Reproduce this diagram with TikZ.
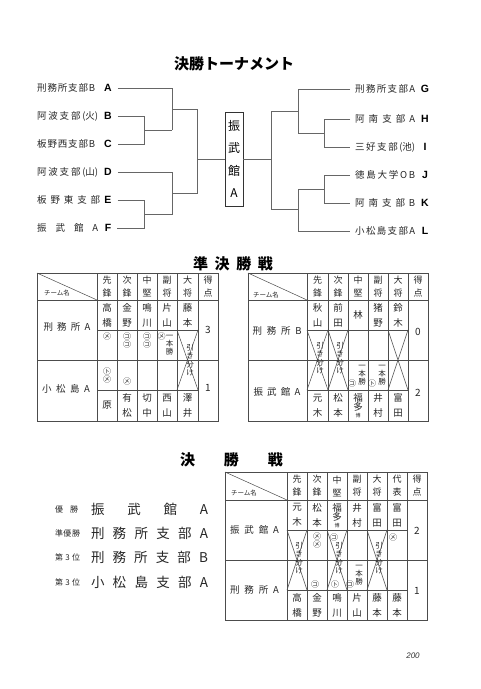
\documentclass[tikz,border=0pt]{standalone}
\usepackage{fontspec}
\setmainfont{Noto Sans CJK JP}
\newfontfamily\lat{Liberation Sans}
\makeatletter
\def\sprd#1#2{\makebox[#1][s]{\sprd@a#2\relax}}
\def\sprd@a#1{#1\futurelet\sprd@n\sprd@b}
\def\sprd@b{\ifx\sprd@n\relax\expandafter\@gobble\else\hfill\expandafter\sprd@a\fi}
\makeatother
\begin{document}
\begin{tikzpicture}[x=1pt,y=-1pt,
  br/.style={draw=black!60, line width=0.5pt},
  tb/.style={draw=black!70, line width=0.5pt},
  nm/.style={inner sep=0, align=center, font=\fontsize{9.5}{15}\selectfont, text=black!85},
  hd/.style={inner sep=0, align=center, font=\fontsize{9}{13}\selectfont, text=black!85},
  mk/.style={inner sep=0, align=center, font=\fontsize{8}{8}\selectfont, text=black!85},
  hk/.style={inner sep=0, align=center, font=\fontsize{7.5}{8.3}\selectfont, text=black!85},
  lbl/.style={inner sep=0, anchor=west, font=\fontsize{9.5}{10}\selectfont, text=black!85},
  tnm/.style={inner sep=0, font=\fontsize{9.5}{10}\selectfont, text=black!85},
  lett/.style={inner sep=0, font=\lat\bfseries\fontsize{10.5}{11}\selectfont},
  ttl/.style={inner sep=0, font=\bfseries\fontsize{15}{16}\selectfont},
  cmn/.style={inner sep=0, font=\fontsize{6.5}{7}\selectfont, text=black!85},
  sm/.style={inner sep=0, font=\fontsize{8}{9}\selectfont, text=black!85},
  big/.style={inner sep=0, font=\fontsize{13.5}{14}\selectfont, text=black!85},
  scr/.style={inner sep=0, font=\fontsize{10}{11}\selectfont, text=black!85}
]
\fill[white] (0,0) rectangle (480,689);
\useasboundingbox (0,0) rectangle (480,689);

% ---------- title
\node[ttl] (t1) at (234,64) {決勝トーナメント};

% ---------- left bracket
\node[lbl] (nA) at (37,88)  {\sprd{58pt}{刑務所支部B}};
\node[lbl] (nB) at (37,116) {\sprd{61pt}{阿波支部{(火)}}};
\node[lbl] (nC) at (37,144) {\sprd{58pt}{板野西支部B}};
\node[lbl] (nD) at (37,172) {\sprd{61pt}{阿波支部{(山)}}};
\node[lbl] (nE) at (37,200) {\sprd{63pt}{板野東支部}};
\node[lbl] (nF) at (37,228) {\sprd{61pt}{振武館A}};
\node[lett] (A) at (108,88) {A};
\node[lett] (B) at (108,116) {B};
\node[lett] (C) at (108,144) {C};
\node[lett] (D) at (108,172) {D};
\node[lett] (E) at (108,200) {E};
\node[lett] (F) at (108,228) {F};

\node[draw=black!80, line width=0.6pt, minimum width=18pt, minimum height=94pt, inner sep=0,
      align=center, font=\fontsize{12}{22.5}\selectfont] (W) at (234,159) {振\\武\\館\\A};

\draw[br] ([xshift=6pt]A.east) -- (172,88) -- (172,130);
\draw[br] ([xshift=6pt]B.east) -- (144,116) -- (144,144) -- ([xshift=6pt]C.east);
\draw[br] (144,130) -- (172,130);
\draw[br] (172,109) -- (197,109) -- (197,193) -- (172,193);
\draw[br] ([xshift=6pt]D.east) -- (172,172) -- (172,214) -- (144,214);
\draw[br] ([xshift=6pt]E.east) -- (144,200) -- (144,228) -- ([xshift=6pt]F.east);
\draw[br] (W.west) -- (197,159);

% ---------- right bracket
\node[lbl] (nG) at (355,89)  {\sprd{60pt}{刑務所支部A}};
\node[lbl] (nH) at (355,119) {\sprd{60pt}{阿南支部A}};
\node[lbl] (nI) at (355,147) {\sprd{60pt}{三好支部{(池)}}};
\node[lbl] (nJ) at (355,175) {\sprd{60pt}{徳島大学OB}};
\node[lbl] (nK) at (355,203) {\sprd{60pt}{阿南支部B}};
\node[lbl] (nL) at (355,231) {\sprd{60pt}{小松島支部A}};
\node[lett] (G) at (425,89) {G};
\node[lett] (H) at (425,119) {H};
\node[lett] (I) at (425,147) {I};
\node[lett] (J) at (425,175) {J};
\node[lett] (K) at (425,203) {K};
\node[lett] (L) at (425,231) {L};

\draw[br] (W.east) -- (271,159);
\draw[br] (298,111) -- (271,111) -- (271,209) -- (298,209);
\draw[br] ([xshift=-5pt]nG.west) -- (298,89) -- (298,133) -- (324,133);
\draw[br] ([xshift=-5pt]nH.west) -- (324,119) -- (324,147) -- ([xshift=-5pt]nI.west);
\draw[br] (324,189) -- (298,189) -- (298,231) -- ([xshift=-5pt]nL.west);
\draw[br] ([xshift=-5pt]nJ.west) -- (324,175) -- (324,203) -- ([xshift=-5pt]nK.west);

% ---------- semifinal title
\node[ttl] (t2) at (233,264) {\sprd{80pt}{準決勝戦}};

% ---------- left semifinal table
\draw[tb] (37,273) rectangle (218,421);
\foreach \x in {97,117,137,157,177,198} \draw[tb] (\x,273) -- (\x,421);
\draw[tb] (37,300) -- (218,300);
\draw[tb] (37,360) -- (218,360);
\draw[tb] (97,330) -- (198,330);
\draw[tb] (97,390) -- (198,390);
\draw[tb] (37,273) -- (97,300);
\draw[tb] (177,330) -- (198,390) (198,330) -- (177,390);
\node[cmn] (lc) at (57,293) {チーム名};
\foreach \x/\a [count=\i] in {107/{先\\鋒},127/{次\\鋒},147/{中\\堅},167/{副\\将},187.5/{大\\将},208/{得\\点}}
  \node[hd] (lh\i) at (\x,286.5) {\a};
\foreach \x/\a [count=\i] in {107/{高\\橋},127/{金\\野},147/{鳴\\川},167/{片\\山},187.5/{藤\\本}}
  \node[nm] (la\i) at (\x,315) {\a};
\foreach \x/\a [count=\i] in {107/原,127/{有\\松},147/{切\\中},167/{西\\山},187.5/{澤\\井}}
  \node[nm] (lb\i) at (\x,405.5) {\a};
\node[tnm] (lt1) at (67,327) {\sprd{47pt}{刑務所A}};
\node[tnm] (lt2) at (66,389) {\sprd{48pt}{小松島A}};
\node[scr] (ls1) at (208,330) {3};
\node[scr] (ls2) at (208,388) {1};
\node[mk] (lr1) at (107,336) {㋱};
\node[mk] (lr2) at (127,340) {㋙\\㋙};
\node[mk] (lr3) at (147,340) {㋙\\㋙};
\node[mk] (lr4) at (161.5,336) {㋱};
\node[hk] (lr5) at (169.5,345) {一\\本\\勝};
\node[hk] (lr6) at (190,360) {引\\き\\分\\け};
\node[mk] (lr7) at (107,375) {㋣\\㋱};
\node[mk] (lr8) at (127,381) {㋱};

% ---------- right semifinal table
\draw[tb] (248,273) rectangle (428,421);
\foreach \x in {307,328,348,368,388,408} \draw[tb] (\x,273) -- (\x,421);
\draw[tb] (248,300) -- (428,300);
\draw[tb] (248,360) -- (428,360);
\draw[tb] (307,330) -- (408,330);
\draw[tb] (307,390) -- (408,390);
\draw[tb] (248,273) -- (307,300);
\draw[tb] (307,330) -- (328,390) (328,330) -- (307,390);
\draw[tb] (328,330) -- (348,390) (348,330) -- (328,390);
\draw[tb] (388,330) -- (408,390) (408,330) -- (388,390);
\node[cmn] (rc) at (266,295) {チーム名};
\foreach \x/\a [count=\i] in {317.5/{先\\鋒},338/{次\\鋒},358/{中\\堅},378/{副\\将},398/{大\\将},418/{得\\点}}
  \node[hd] (rh\i) at (\x,286.5) {\a};
\foreach \x/\a [count=\i] in {317.5/{秋\\山},338/{前\\田},358/林,378/{猪\\野},398/{鈴\\木}}
  \node[nm] (ra\i) at (\x,315) {\a};
\foreach \x/\a [count=\i] in {317.5/{元\\木},338/{松\\本},378/{井\\村},398/{富\\田}}
  \node[nm] (rb\i) at (\x,405.5) {\a};
\node[inner sep=0, align=center, font=\fontsize{9.5}{10}\selectfont, text=black!85] (rb5) at (358,406)
  {福\\[-1pt]多\\[-3pt]{\fontsize{5}{5}\selectfont 博}};
\node[tnm] (rt1) at (277,331) {\sprd{49pt}{刑務所B}};
\node[tnm] (rt2) at (277,392) {\sprd{47pt}{振武館A}};
\node[scr] (rs1) at (418,332) {0};
\node[scr] (rs2) at (418,393) {2};
\node[hk] (rr1) at (320,358) {引\\き\\分\\け};
\node[hk] (rr2) at (340,358) {引\\き\\分\\け};
\node[hk] (rr3) at (362,375) {一\\本\\勝};
\node[mk] (rr4) at (352,383) {㋙};
\node[hk] (rr5) at (382,375) {一\\本\\勝};
\node[mk] (rr6) at (372,383) {㋣};

% ---------- final title
\node[ttl] (t3) at (231.5,460) {\sprd{103pt}{決勝戦}};

% ---------- final table
\draw[tb] (225,472) rectangle (427,620);
\foreach \x in {287,307,327,347,367,387,407} \draw[tb] (\x,472) -- (\x,620);
\draw[tb] (225,500) -- (427,500);
\draw[tb] (225,560) -- (427,560);
\draw[tb] (287,530) -- (407,530);
\draw[tb] (287,590) -- (407,590);
\draw[tb] (225,472) -- (287,500);
\draw[tb] (287,530) -- (307,590) (307,530) -- (287,590);
\draw[tb] (327,530) -- (347,590) (347,530) -- (327,590);
\draw[tb] (367,530) -- (387,590) (387,530) -- (367,590);
\node[cmn] (fc) at (244,493) {チーム名};
\foreach \x/\a [count=\i] in {297/{先\\鋒},317/{次\\鋒},337/{中\\堅},357/{副\\将},377/{大\\将},397/{代\\表},417/{得\\点}}
  \node[hd] (fh\i) at (\x,486) {\a};
\foreach \x/\a [count=\i] in {297/{元\\木},317/{松\\本},357/{井\\村},377/{富\\田},397/{富\\田}}
  \node[nm] (fa\i) at (\x,515) {\a};
\node[inner sep=0, align=center, font=\fontsize{9.5}{10}\selectfont, text=black!85] (fa6) at (337,515.5)
  {福\\[-1pt]多\\[-3pt]{\fontsize{5}{5}\selectfont 博}};
\foreach \x/\a [count=\i] in {297/{高\\橋},317/{金\\野},337/{鳴\\川},357/{片\\山},377/{藤\\本},397/{藤\\本}}
  \node[nm] (fb\i) at (\x,605.5) {\a};
\node[tnm] (ft1) at (254.5,530) {\sprd{49pt}{振武館A}};
\node[tnm] (ft2) at (254.5,590) {\sprd{49pt}{刑務所A}};
\node[scr] (fs1) at (417,531) {2};
\node[scr] (fs2) at (417,591) {1};
\node[hk] (fr1) at (299,558) {引\\き\\分\\け};
\node[hk] (fr2) at (339,558) {引\\き\\分\\け};
\node[hk] (fr3) at (379,558) {引\\き\\分\\け};
\node[mk] (fr4) at (317,540) {㋱\\㋱};
\node[mk] (fr5) at (334,537) {㋙};
\node[mk] (fr6) at (393,537) {㋱};
\node[mk] (fr7) at (315,584) {㋙};
\node[mk] (fr8) at (335,584) {㋣};
\node[hk] (fr9) at (359,575) {一\\本\\勝};
\node[mk] (fr10) at (350,584) {㋙};

% ---------- results list
\node[sm] (p1) at (66.5,509) {\sprd{23pt}{優勝}};
\node[sm] (p2) at (67.5,533) {\sprd{25pt}{準優勝}};
\node[sm] (p3) at (67.5,557) {\sprd{25pt}{第3位}};
\node[sm] (p4) at (67.5,582) {\sprd{25pt}{第3位}};
\node[big] (q1) at (149.5,509) {\sprd{117pt}{振武館A}};
\node[big] (q2) at (149.5,533) {\sprd{117pt}{刑務所支部A}};
\node[big] (q3) at (149.5,557) {\sprd{117pt}{刑務所支部B}};
\node[big] (q4) at (149.5,582) {\sprd{117pt}{小松島支部A}};

% ---------- page number
\node[inner sep=0, font=\lat\itshape\fontsize{8}{8}\selectfont, text=black!80] (pg) at (413,656) {200};
\end{tikzpicture}
\end{document}
